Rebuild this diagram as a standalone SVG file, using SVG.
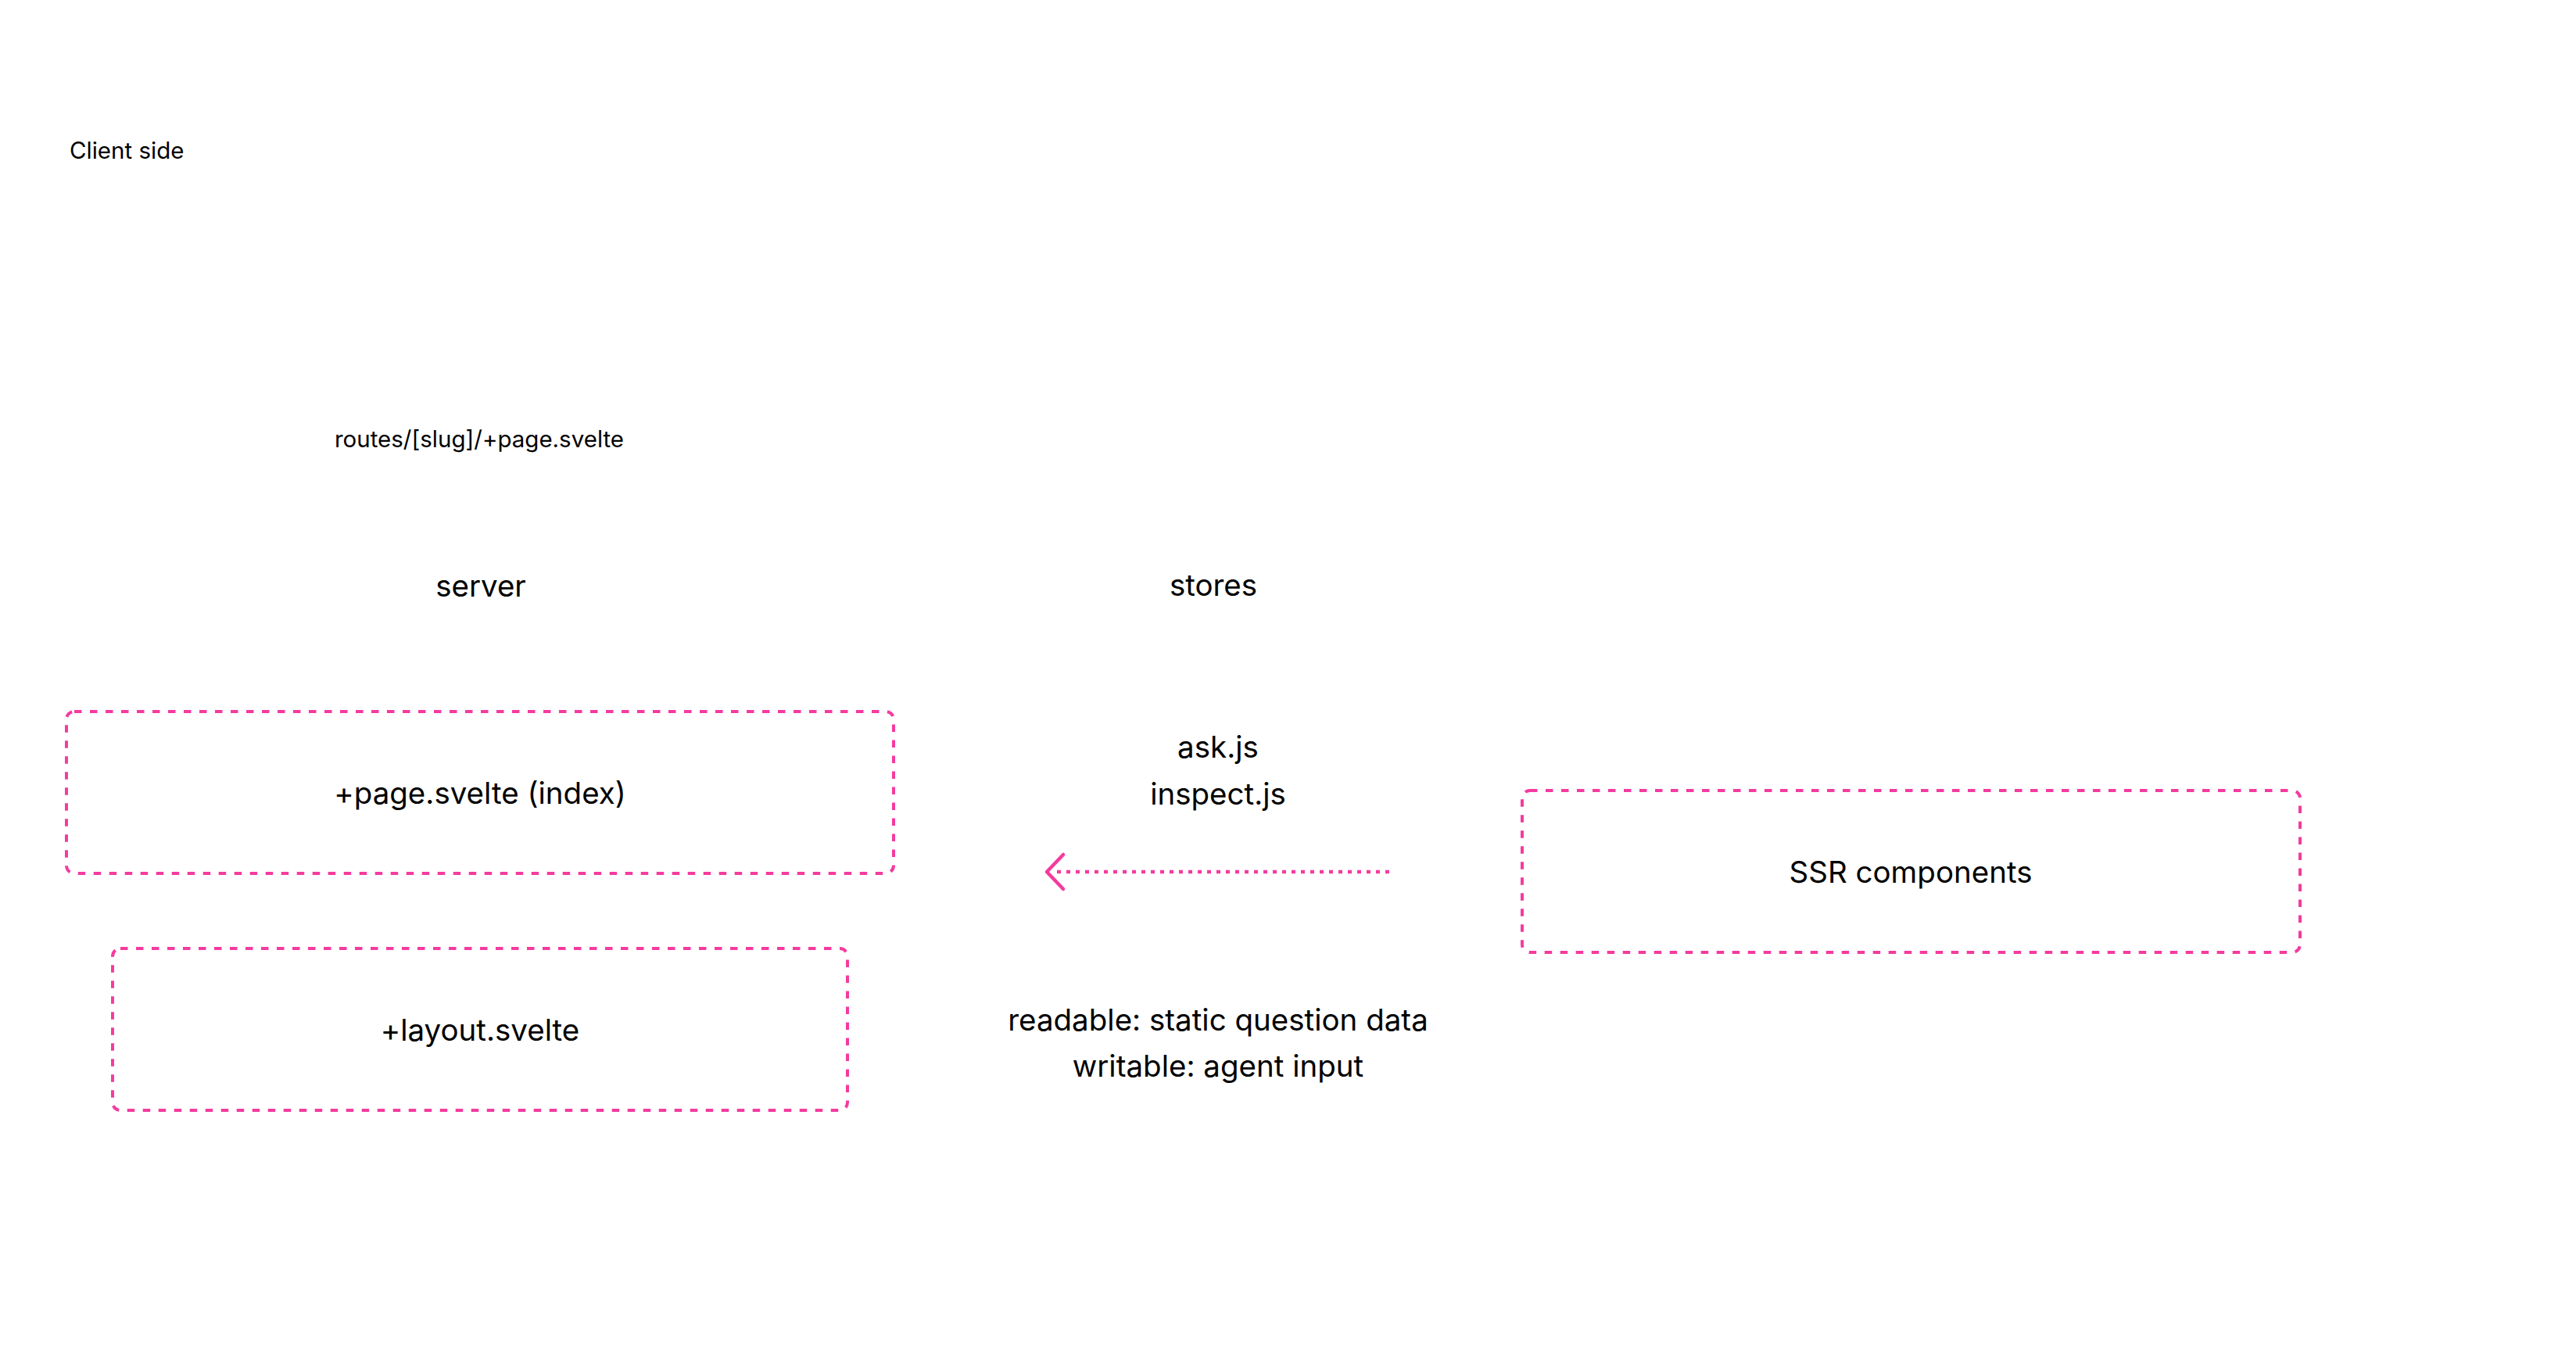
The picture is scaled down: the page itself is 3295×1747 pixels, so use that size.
<svg xmlns="http://www.w3.org/2000/svg" width="3295" height="1747" viewBox="0 0 3295 1747">
  <style>
    .box { fill: none; stroke: #f43b9f; stroke-width: 4; stroke-dasharray: 9.5 10.5; }
    .t { font-family: Inter, "Noto Sans", "Liberation Sans", sans-serif; fill: #000000; }
    .lg { font-size: 38.5px; text-anchor: middle; }
    .sm { font-size: 29.5px; }
    .conn { fill: none; stroke: #f43b9f; stroke-width: 4.5; }
  </style>
  <rect width="3295" height="1747" fill="#ffffff"/>
  <g id="label-client-side"><text class="t sm" x="89" y="203">Client side</text></g>
  <g id="label-routes"><text class="t sm" x="613" y="572" text-anchor="middle">routes/[slug]/+page.svelte</text></g>
  <g id="label-server"><text class="t lg" x="615" y="763">server</text></g>
  <g id="label-stores"><text class="t lg" x="1552" y="762">stores</text></g>
  <g id="label-storefiles">
    <text class="t lg" x="1558" y="969">ask.js</text>
    <text class="t lg" x="1558" y="1029">inspect.js</text>
  </g>
  <g id="label-storetypes">
    <text class="t lg" x="1558" y="1318">readable: static question data</text>
    <text class="t lg" x="1558" y="1377">writable: agent input</text>
  </g>
  <g id="node-page">
    <rect class="box" x="85" y="910" width="1058" height="207" rx="10"/>
    <text class="t lg" x="614" y="1028">+page.svelte (index)</text>
  </g>
  <g id="node-layout">
    <rect class="box" x="144" y="1213" width="940" height="207" rx="10"/>
    <text class="t lg" x="614" y="1331">+layout.svelte</text>
  </g>
  <g id="node-ssr">
    <rect class="box" x="1947" y="1011" width="995" height="207" rx="10"/>
    <text class="t lg" x="2444" y="1129">SSR components</text>
  </g>
  <g id="connectors">
    <line class="conn" x1="1777" y1="1115" x2="1346" y2="1115" stroke-dasharray="5 7"/>
    <polyline class="conn" points="1360,1093 1339,1115 1360,1137" stroke-linecap="round" stroke-linejoin="round"/>
  </g>
</svg>
